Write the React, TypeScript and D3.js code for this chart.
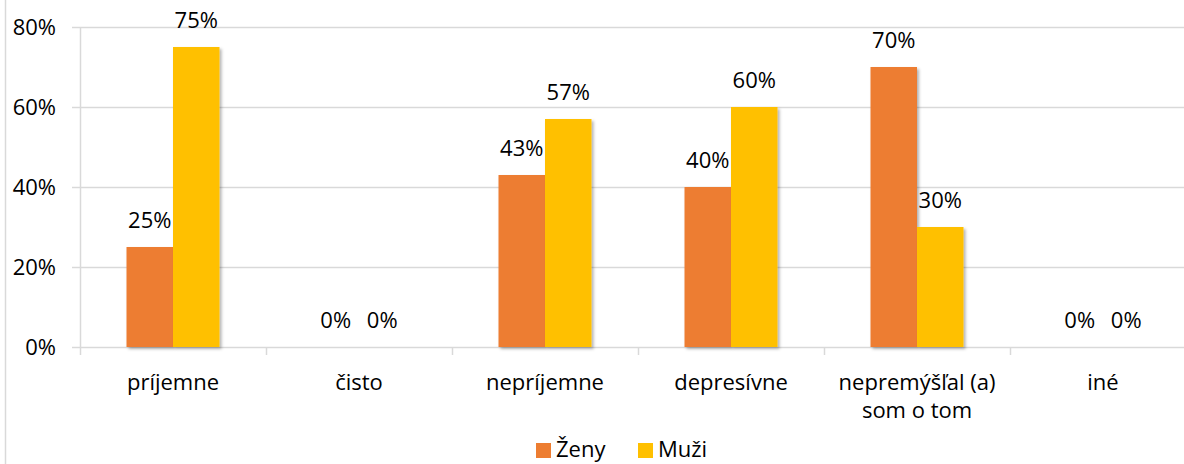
import * as d3 from "d3";
import { useEffect, useRef } from "react";

const categories = ["príjemne", "čisto", "nepríjemne", "depresívne", "nepremýšľal (a) som o tom", "iné"];
const categoryLines = [["príjemne"], ["čisto"], ["nepríjemne"], ["depresívne"], ["nepremýšľal (a)", "som o tom"], ["iné"]];
const seriesNames = ["Ženy", "Muži"];
const zeny = [25, 0, 43, 40, 70, 0];
const muzi = [75, 0, 57, 60, 30, 0];
const yTicks = [0, 20, 40, 60, 80];

const colors = ["#ED7D31", "#FFC000"];
const font = "'Open Sans', 'Noto Sans', sans-serif";
const fs = 22;

export default function App() {
    const ref = useRef<SVGSVGElement | null>(null);

    useEffect(() => {
        if (!ref.current) return;
        const svg = d3.select(ref.current);
        svg.selectAll("*").remove();

        const W = 1184, H = 464;
        const left = 80, right = 1196, top = 27, bottom = 347;

        const x = d3.scaleBand<string>().domain(categories).range([left, right]).padding(0);
        const bw = x.bandwidth();
        const xs = d3.scaleBand<string>().domain(seriesNames).range([bw * 0.25, bw * 0.75]).padding(0);
        const y = d3.scaleLinear().domain([0, 80]).range([bottom, top]);

        const defs = svg.append("defs");
        const f = defs.append("filter").attr("id", "shadow")
            .attr("x", "-20%").attr("y", "-20%").attr("width", "140%").attr("height", "140%");
        f.append("feDropShadow")
            .attr("dx", 2).attr("dy", 2).attr("stdDeviation", 1.5)
            .attr("flood-color", "#000").attr("flood-opacity", 0.3);

        svg.append("rect").attr("width", W).attr("height", H).attr("fill", "#fff");

        // outer chart border (left side visible)
        svg.append("line")
            .attr("x1", 5.5).attr("x2", 5.5).attr("y1", 0).attr("y2", H)
            .attr("stroke", "#d9d9d9").attr("stroke-width", 1.5);

        // gridlines
        svg.append("g").selectAll("line")
            .data(yTicks)
            .join("line")
            .attr("x1", left - 8).attr("x2", right)
            .attr("y1", d => Math.round(y(d)) + 0.5).attr("y2", d => Math.round(y(d)) + 0.5)
            .attr("stroke", "#d9d9d9").attr("stroke-width", 1.5);

        // y axis line
        svg.append("line")
            .attr("x1", left + 0.5).attr("x2", left + 0.5).attr("y1", top).attr("y2", bottom + 8)
            .attr("stroke", "#d9d9d9").attr("stroke-width", 1.5);

        // category ticks
        svg.append("g").selectAll("line")
            .data(categories.slice(1))
            .join("line")
            .attr("x1", d => x(d)! + 0.5).attr("x2", d => x(d)! + 0.5)
            .attr("y1", bottom).attr("y2", bottom + 8)
            .attr("stroke", "#d9d9d9").attr("stroke-width", 1.5);

        // y tick labels
        svg.append("g").selectAll("text")
            .data(yTicks)
            .join("text")
            .attr("x", 56).attr("y", d => y(d) + 8)
            .attr("text-anchor", "end")
            .attr("font-family", font).attr("font-size", fs).attr("fill", "#000")
            .text(d => d + "%");

        const rows = categories.map((c, i) => ({ c, values: [zeny[i], muzi[i]] }));

        const groups = svg.append("g").selectAll("g")
            .data(rows)
            .join("g")
            .attr("transform", d => `translate(${x(d.c)}, 0)`);

        groups.selectAll("rect")
            .data(d => d.values.map((v, k) => ({ v, s: seriesNames[k], k })))
            .join("rect")
            .attr("x", d => xs(d.s)!)
            .attr("width", xs.bandwidth())
            .attr("y", d => y(d.v))
            .attr("height", d => bottom - y(d.v))
            .attr("fill", d => colors[d.k])
            .attr("filter", d => d.v > 0 ? "url(#shadow)" : null);

        groups.selectAll("text.lbl")
            .data(d => d.values.map((v, k) => ({ v, s: seriesNames[k] })))
            .join("text")
            .attr("class", "lbl")
            .attr("x", d => xs(d.s)! + xs.bandwidth() / 2)
            .attr("y", d => y(d.v) - 19)
            .attr("text-anchor", "middle")
            .attr("font-family", font).attr("font-size", fs).attr("fill", "#000")
            .text(d => d.v + "%");

        // category labels
        const cl = svg.append("g").selectAll("text")
            .data(categories.map((c, i) => ({ c, lines: categoryLines[i] })))
            .join("text")
            .attr("text-anchor", "middle")
            .attr("font-family", font).attr("font-size", fs).attr("fill", "#000");
        cl.selectAll("tspan")
            .data(d => d.lines.map(l => ({ l, c: d.c })))
            .join("tspan")
            .attr("x", d => x(d.c)! + bw / 2)
            .attr("y", (d, i) => 390 + i * 28)
            .text(d => d.l);

        // legend
        const legendX = [536, 638];
        const lg = svg.append("g").selectAll("g")
            .data(seriesNames)
            .join("g")
            .attr("transform", (d, i) => `translate(${legendX[i]}, 443)`);
        lg.append("rect").attr("width", 15).attr("height", 15).attr("fill", (d, i) => colors[i]);
        lg.append("text")
            .attr("x", 20).attr("y", 14)
            .attr("font-family", font).attr("font-size", fs).attr("fill", "#000")
            .text(d => d);
    }, []);

    return (
        <svg ref={ref} width={1184} height={464}
            style={{ position: "absolute", left: 0, top: 0, display: "block" }} />
    );
}
